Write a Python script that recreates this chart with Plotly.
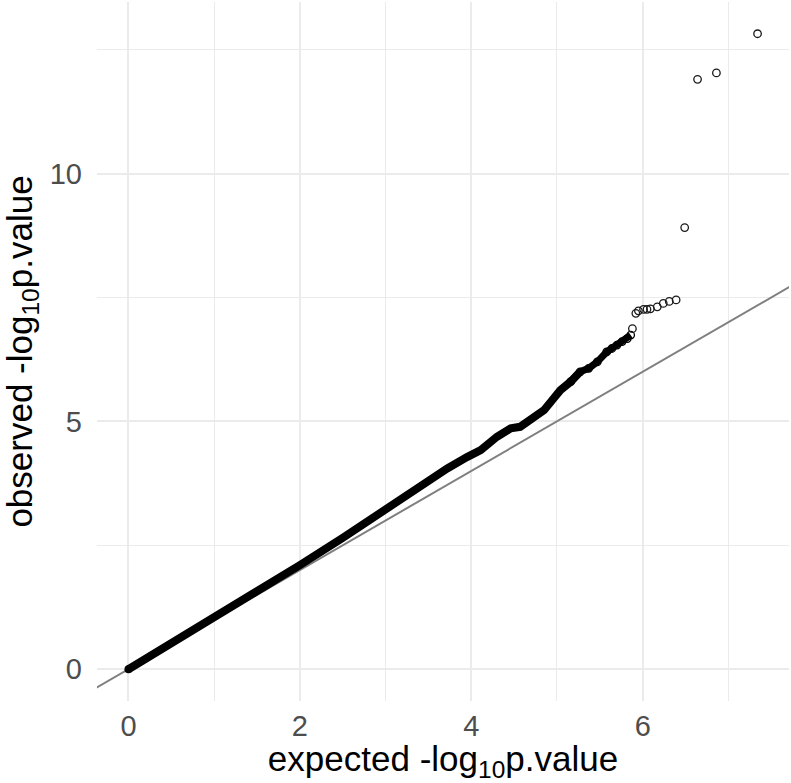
import plotly.graph_objects as go

# Dense part of the QQ curve (expected vs observed -log10 p)
dense_x = [0.0, 0.25, 0.5, 0.75, 1.0, 1.5, 2.0, 2.5, 3.0, 3.5, 3.72, 3.95, 4.11,
           4.30, 4.46, 4.57, 4.69, 4.85, 4.96, 5.04, 5.16, 5.27]
dense_y = [0.0, 0.26, 0.52, 0.78, 1.05, 1.57, 2.10, 2.65, 3.22, 3.83, 4.05, 4.28, 4.42,
           4.69, 4.86, 4.89, 5.03, 5.23, 5.46, 5.63, 5.80, 6.00]

# Thinner chain of overlapping circles
chain_x = [5.16, 5.27, 5.37, 5.47, 5.58, 5.64, 5.70, 5.76, 5.82, 5.86]
chain_y = [5.80, 6.00, 6.07, 6.20, 6.40, 6.47, 6.54, 6.61, 6.67, 6.74]

# Sparse tail points
tail_x = [5.88, 5.92, 5.95, 6.01, 6.05, 6.09, 6.17, 6.24, 6.31, 6.39, 6.49, 6.64, 6.86, 7.34]
tail_y = [6.87, 7.18, 7.23, 7.26, 7.26, 7.27, 7.31, 7.38, 7.42, 7.45, 8.91, 11.90, 12.03, 12.82]

# Reference line y = x
ref_x = [-1.0, 9.0]
ref_y = [-1.0, 9.0]

x_ticks = [0, 2, 4, 6]
y_ticks = [0, 5, 10]

FONT = "Liberation Sans, Arial, Helvetica, sans-serif"

fig = go.Figure()

fig.add_trace(go.Scatter(
    x=ref_x, y=ref_y, mode="lines",
    line=dict(color="#7f7f7f", width=2), hoverinfo="skip", showlegend=False))

fig.add_trace(go.Scatter(
    x=dense_x, y=dense_y, mode="lines",
    line=dict(color="black", width=8), showlegend=False))

fig.add_trace(go.Scatter(
    x=dense_x[:1], y=dense_y[:1], mode="markers",
    marker=dict(color="black", size=8), showlegend=False))

fig.add_trace(go.Scatter(
    x=chain_x, y=chain_y, mode="lines+markers",
    line=dict(color="black", width=7),
    marker=dict(symbol="circle-open", size=7.5, color="black", line=dict(width=1.3)),
    showlegend=False))

fig.add_trace(go.Scatter(
    x=tail_x, y=tail_y, mode="markers",
    marker=dict(symbol="circle-open", size=7.5, color="#1a1a1a", line=dict(width=1.3)),
    showlegend=False))

axis_common = dict(
    showline=False, zeroline=False, ticks="", automargin=False,
    gridcolor="#ebebeb", gridwidth=2,
    tickfont=dict(family=FONT, size=29, color="#4d4d4d"),
)

fig.update_xaxes(
    range=[-0.367, 7.707], tickmode="array", tickvals=x_ticks,
    ticktext=[str(v) for v in x_ticks],
    minor=dict(showgrid=True, dtick=1, tick0=0, gridcolor="#ebebeb", gridwidth=1.2),
    title=dict(text="expected -log<sub>10</sub>p.value",
               font=dict(family=FONT, size=35, color="black"), standoff=4),
    ticklabelstandoff=5,
    **axis_common)

fig.update_yaxes(
    range=[-0.641, 13.46], tickmode="array", tickvals=y_ticks,
    ticktext=[str(v) for v in y_ticks],
    minor=dict(showgrid=True, dtick=2.5, tick0=0, gridcolor="#ebebeb", gridwidth=1.2),
    title=dict(text="observed -log<sub>10</sub>p.value",
               font=dict(family=FONT, size=35, color="black"), standoff=12),
    ticklabelstandoff=14,
    **axis_common)

fig.update_layout(
    width=791, height=783,
    margin=dict(l=97, r=2, t=2, b=82),
    paper_bgcolor="white", plot_bgcolor="white",
    showlegend=False,
)

fig.write_html(
    "out.html",
    config={"displayModeBar": False},
    post_script="document.body.style.margin='0';document.body.style.padding='0';"
                "document.body.style.overflow='hidden';",
)
